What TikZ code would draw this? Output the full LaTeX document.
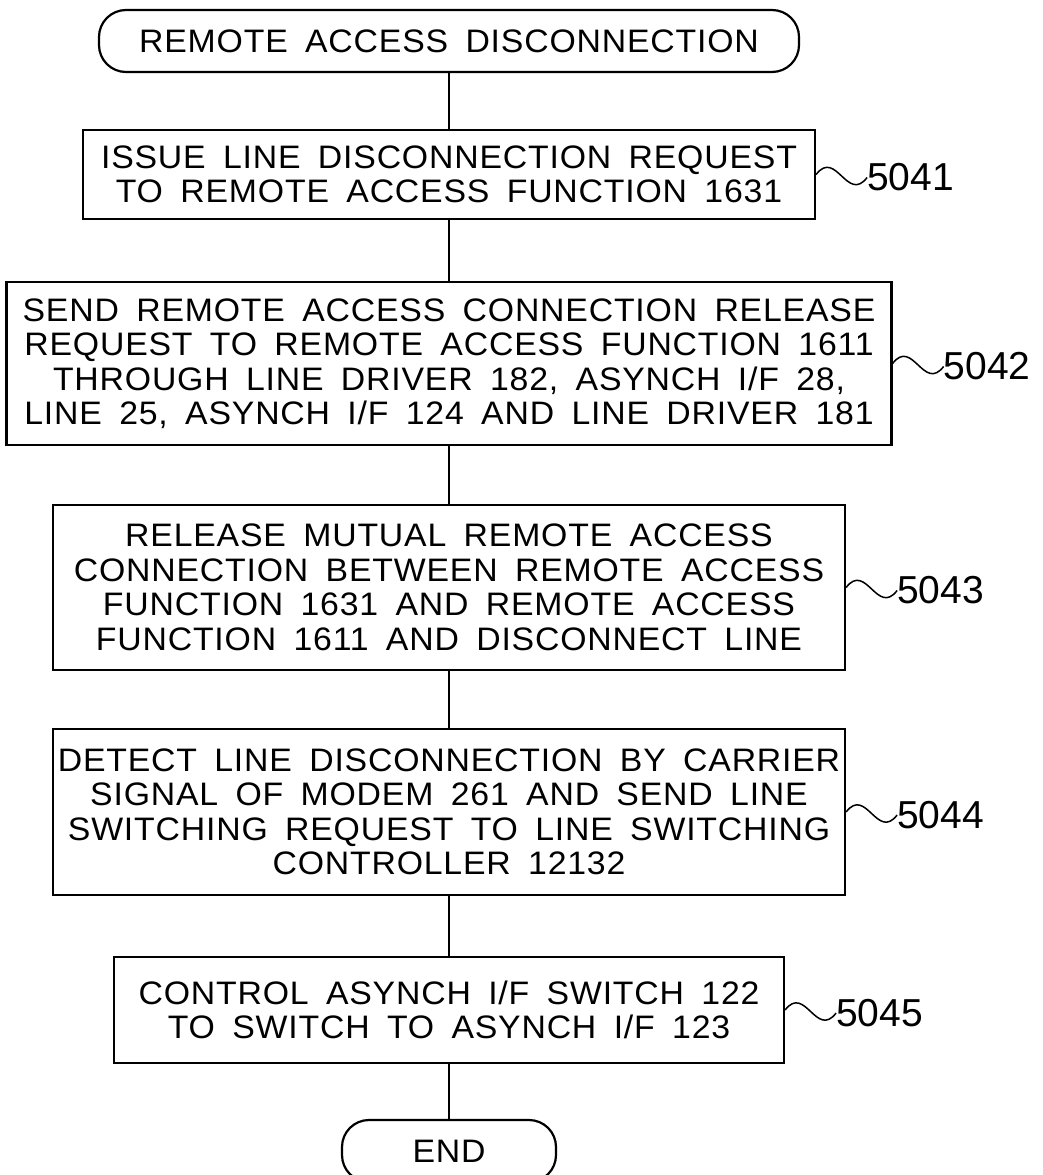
\documentclass[tikz,border=0pt]{standalone}
\usepackage{fontspec}
\setmainfont{Liberation Sans}[WordSpace=1.7, FakeStretch=1.04, LetterSpace=2.5]
\newfontfamily\lblfont{Liberation Sans}
\begin{document}
\begin{tikzpicture}[x=1pt,y=-1pt,
  box/.style={draw, line width=2.2pt, align=center, inner sep=0pt, font=\fontsize{32.5}{34.5}\selectfont},
  term/.style={box, rounded corners=27pt},
  lbl/.style={font=\lblfont\fontsize{39}{39}\selectfont, anchor=west, inner sep=0pt},
  conn/.style={line width=2pt},
  wave/.style={line width=1.5pt}]
\useasboundingbox (0,0) rectangle (1043,1175);
\node[term, minimum width=700pt, minimum height=62pt] (start) at (449,41) {REMOTE ACCESS DISCONNECTION};
\node[box, minimum width=732pt, minimum height=89pt] (b1) at (449,174.5) {ISSUE LINE DISCONNECTION REQUEST\\TO REMOTE ACCESS FUNCTION 1631};
\node[box, minimum width=885pt, minimum height=163pt] (b2) at (449,363.5) {SEND REMOTE ACCESS CONNECTION RELEASE\\REQUEST TO REMOTE ACCESS FUNCTION 1611\\THROUGH LINE DRIVER 182, ASYNCH I/F 28,\\LINE 25, ASYNCH I/F 124 AND LINE DRIVER 181};
\node[box, minimum width=792pt, minimum height=165pt] (b3) at (449,587.5) {RELEASE MUTUAL REMOTE ACCESS\\CONNECTION BETWEEN REMOTE ACCESS\\FUNCTION 1631 AND REMOTE ACCESS\\FUNCTION 1611 AND DISCONNECT LINE};
\node[box, minimum width=792pt, minimum height=166pt] (b4) at (449,812) {DETECT LINE DISCONNECTION BY CARRIER\\SIGNAL OF MODEM 261 AND SEND LINE\\SWITCHING REQUEST TO LINE SWITCHING\\CONTROLLER 12132};
\node[box, minimum width=670pt, minimum height=106pt] (b5) at (449,1010) {CONTROL ASYNCH I/F SWITCH 122\\TO SWITCH TO ASYNCH I/F 123};
\node[term, minimum width=214pt, minimum height=62pt] (end) at (449,1151) {END};
\draw[conn] (start) -- (b1);
\draw[conn] (b1) -- (b2);
\draw[conn] (b2) -- (b3);
\draw[conn] (b3) -- (b4);
\draw[conn] (b4) -- (b5);
\draw[conn] (b5) -- (end);
\foreach \b/\t in {b1/5041,b2/5042,b3/5043,b4/5044,b5/5045}{
  \node[lbl] (l\t) at ([shift={(51,3)}]\b.east) {\t};
  \draw[wave] (\b.east) .. controls ([shift={(20,-26)}]\b.east) and ([shift={(-20,26)}]l\t.west) .. (l\t.west);
}
\end{tikzpicture}
\end{document}
